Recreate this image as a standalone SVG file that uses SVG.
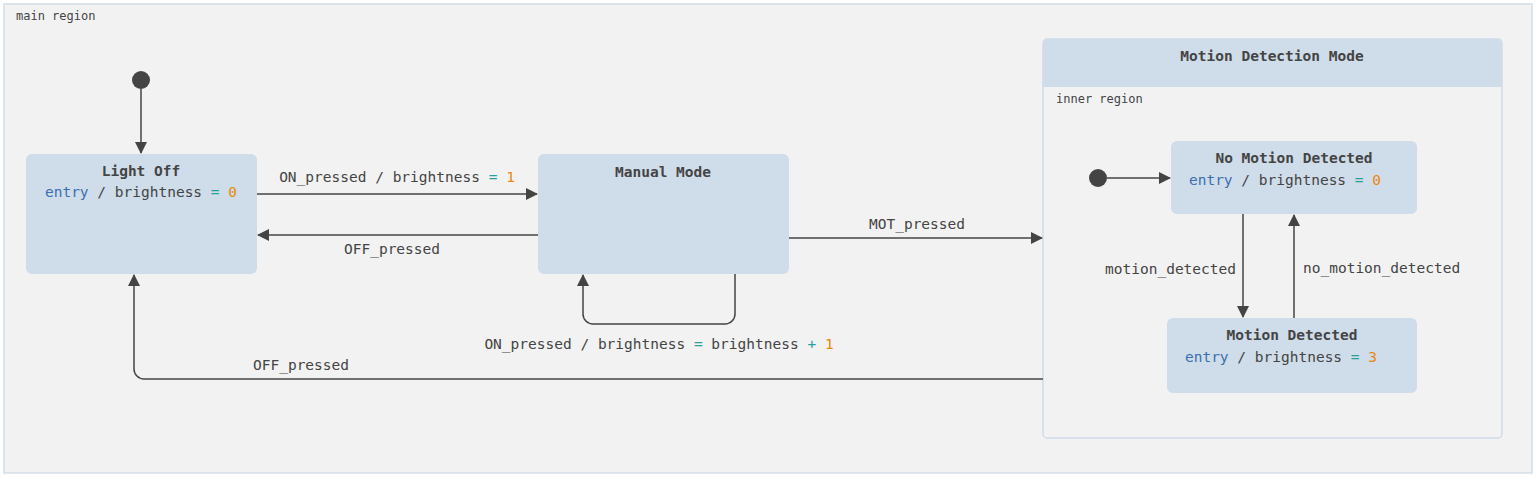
<svg xmlns="http://www.w3.org/2000/svg" width="1536" height="477" viewBox="0 0 1536 477">
<style>
text{font-family:"DejaVu Sans Mono","Liberation Mono",monospace;font-size:14.5px;fill:#444}
.t{font-weight:bold;text-anchor:middle}
.c{text-anchor:middle}
.k{fill:#3b6fb0}.e{fill:#2aa198}.n{fill:#e8890c}
.st{fill:#cfdce9}
.ln{stroke:#444;stroke-width:1.5;fill:none}
.sm{font-size:12px}
</style>
<defs><marker id="a" markerWidth="12" markerHeight="12" refX="11" refY="6" orient="auto" markerUnits="userSpaceOnUse"><path d="M0,0L12,6L0,12Z" fill="#444"/></marker></defs>
<rect x="4" y="4" width="1528" height="469" fill="#f2f2f2" stroke="#d5dde8" stroke-width="1.5"/>
<text x="16" y="20" class="sm">main region</text>
<g id="init1"><circle cx="141" cy="80" r="9" fill="#444"/></g>
<g id="lightoff"><rect class="st" x="26" y="154" width="231" height="120" rx="6"/>
<text x="141" y="176" class="t">Light Off</text>
<text x="141" y="197" class="c"><tspan class="k">entry</tspan> / brightness <tspan class="e">=</tspan> <tspan class="n">0</tspan></text></g>
<g id="manual"><rect class="st" x="538" y="154" width="251" height="120" rx="6"/>
<text x="663" y="177" class="t">Manual Mode</text></g>
<g id="mdm"><rect x="1043" y="39" width="459" height="399" rx="4" fill="#f2f2f2" stroke="#cfdce9" stroke-width="1.5"/>
<path d="M1043,87V43a4,4 0 0 1 4-4H1498a4,4 0 0 1 4,4V87Z" class="st"/>
<text x="1272" y="61" class="t">Motion Detection Mode</text>
<text x="1056" y="103" class="sm">inner region</text>
<circle cx="1098" cy="178" r="9" fill="#444"/>
<g id="nomotion"><rect class="st" x="1171" y="141" width="246" height="73" rx="6"/>
<text x="1294" y="163" class="t">No Motion Detected</text>
<text x="1285" y="185" class="c"><tspan class="k">entry</tspan> / brightness <tspan class="e">=</tspan> <tspan class="n">0</tspan></text></g>
<g id="motion"><rect class="st" x="1167" y="318" width="250" height="75" rx="6"/>
<text x="1292" y="340" class="t">Motion Detected</text>
<text x="1281" y="362" class="c"><tspan class="k">entry</tspan> / brightness <tspan class="e">=</tspan> <tspan class="n">3</tspan></text></g>
</g>
<g id="connectors">
<path class="ln" d="M141,89V153" marker-end="url(#a)"/>
<path class="ln" d="M257,194H537" marker-end="url(#a)"/>
<path class="ln" d="M538,235H258" marker-end="url(#a)"/>
<path class="ln" d="M789,238H1042" marker-end="url(#a)"/>
<path class="ln" d="M735,274V314a10,10 0 0 1-10,10H593a10,10 0 0 1-10-10V275" marker-end="url(#a)"/>
<path class="ln" d="M1043,379H144a10,10 0 0 1-10-10V275" marker-end="url(#a)"/>
<path class="ln" d="M1107,178H1170" marker-end="url(#a)"/>
<path class="ln" d="M1243,214V317" marker-end="url(#a)"/>
<path class="ln" d="M1294,318V215" marker-end="url(#a)"/>
<text x="397" y="182" class="c">ON_pressed / brightness <tspan class="e">=</tspan> <tspan class="n">1</tspan></text>
<text x="392" y="254" class="c">OFF_pressed</text>
<text x="917" y="229" class="c">MOT_pressed</text>
<text x="659" y="349" class="c">ON_pressed / brightness <tspan class="e">=</tspan> brightness <tspan class="e">+</tspan> <tspan class="n">1</tspan></text>
<text x="301" y="370" class="c">OFF_pressed</text>
<text x="1236" y="274" text-anchor="end">motion_detected</text>
<text x="1303" y="273">no_motion_detected</text>
</g>
</svg>
